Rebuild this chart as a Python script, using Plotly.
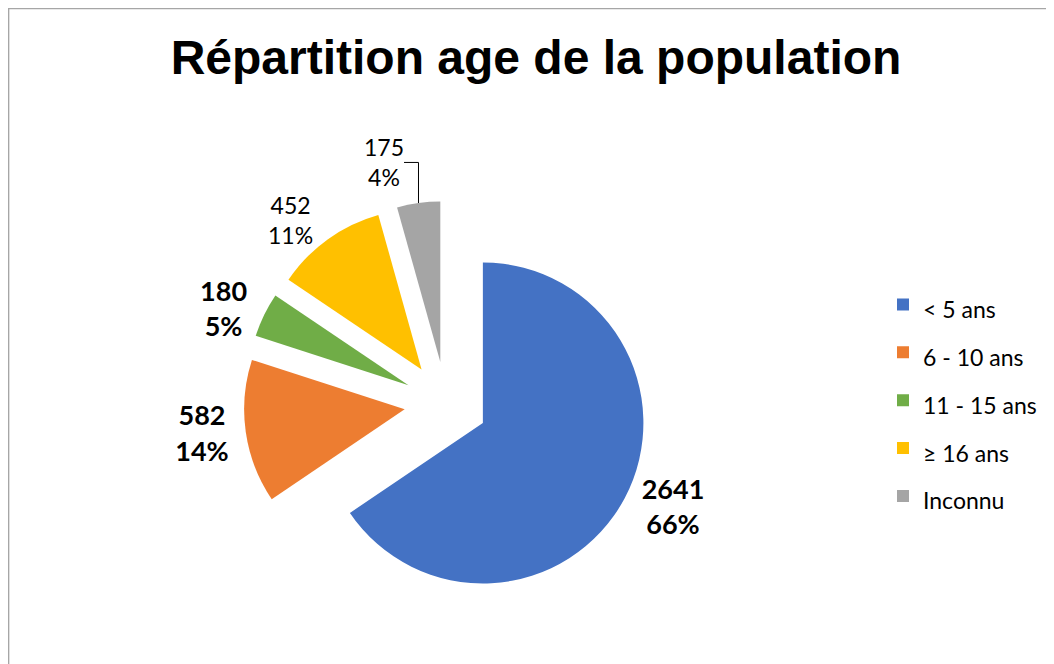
import plotly.graph_objects as go

# données
categories = ["< 5 ans", "6 - 10 ans", "11 - 15 ans", "≥ 16 ans", "Inconnu"]
effectifs = [2641, 582, 180, 452, 175]
pourcentages = ["66%", "14%", "5%", "11%", "4%"]
gras = [True, True, True, False, False]
couleurs = ["#4472C4", "#ED7D31", "#70AD47", "#FFC000", "#A5A5A5"]

textes = []
for v, p, b in zip(effectifs, pourcentages, gras):
    t = f"{v}<br>{p}"
    textes.append(f"<b>{t}</b>" if b else t)
tailles = [27 if b else 23 for b in gras]

# libellés de légende plus petits que la police de légende -> interligne plus grand
legende = [f"<span style='font-size:23px'>{c}</span>" for c in categories]

W, H = 1054, 664
cx, cy, r, pull = 438, 399, 162, 0.26
half = r * (1 + pull)

fig = go.Figure(go.Pie(
    labels=legende,
    values=effectifs,
    text=textes,
    texttemplate="%{text}",
    textposition="outside",
    textfont=dict(family="Lato", size=tailles, color="#000000"),
    marker=dict(colors=couleurs, line=dict(width=0)),
    sort=False,
    direction="clockwise",
    rotation=0,
    pull=pull,
    domain=dict(x=[(cx - half) / W, (cx + half) / W],
                y=[1 - (cy + half) / H, 1 - (cy - half) / H]),
    hoverinfo="label+value",
))

fig.update_layout(
    width=W, height=H,
    margin=dict(l=0, r=0, t=0, b=0),
    paper_bgcolor="white",
    plot_bgcolor="white",
    title=dict(text="<b>Répartition age de la population</b>",
               font=dict(family="Liberation Sans", size=48, color="#000000"),
               x=528 / W, xanchor="center", y=1 - 49 / H, yanchor="middle"),
    legend=dict(x=875 / W, y=1 - 270 / H, xanchor="left", yanchor="top",
                font=dict(family="Lato", size=34.5, color="#000000"),
                itemwidth=30),
    shapes=[dict(type="rect", xref="paper", yref="paper",
                 x0=0.6 / W, x1=1.05, y0=-0.05, y1=1 - 0.6 / H,
                 line=dict(color="#A6A6A6", width=1.5))],
)

fig.write_html("out.html")
